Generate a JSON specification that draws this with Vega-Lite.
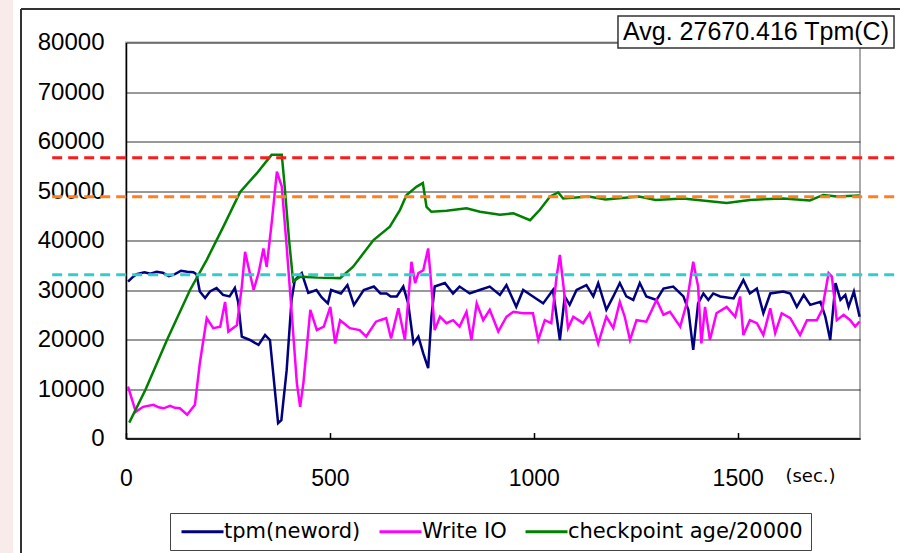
{
 "$schema": "https://vega.github.io/schema/vega-lite/v6.json",
 "width": 734, "height": 396,
 "autosize": {"type": "none"},
 "padding": {"left": 126, "top": 42.5, "right": 40, "bottom": 114.5},
 "background": "#ffffff",
 "config": {"view": {"stroke": "#aaaaaa", "strokeWidth": 2}, "font": "Liberation Sans"},
 "datasets": {
  "tpm": [
   {"t":5,"v":31700},{"t":15,"v":32500},{"t":26,"v":33200},{"t":45,"v":33600},{"t":60,"v":33300},{"t":75,"v":33700},{"t":90,"v":33500},{"t":105,"v":32800},{"t":120,"v":33200},{"t":135,"v":33900},{"t":150,"v":33700},{"t":165,"v":33600},{"t":173,"v":33200},{"t":181,"v":29700},{"t":194,"v":28400},{"t":206,"v":29700},{"t":222,"v":30400},{"t":238,"v":29000},{"t":254,"v":28700},{"t":267,"v":30400},{"t":275,"v":27600},{"t":284,"v":20600},{"t":304,"v":19900},{"t":325,"v":18900},{"t":341,"v":20900},{"t":353,"v":19900},{"t":365,"v":9800},{"t":373,"v":3100},{"t":381,"v":3700},{"t":394,"v":13800},{"t":406,"v":28000},{"t":414,"v":32000},{"t":431,"v":33400},{"t":447,"v":29400},{"t":467,"v":30000},{"t":480,"v":28500},{"t":495,"v":27300},{"t":503,"v":30000},{"t":527,"v":29300},{"t":543,"v":31000},{"t":559,"v":27000},{"t":583,"v":30000},{"t":608,"v":30700},{"t":624,"v":29300},{"t":639,"v":29300},{"t":649,"v":28700},{"t":664,"v":28700},{"t":680,"v":30700},{"t":692,"v":27300},{"t":705,"v":19200},{"t":717,"v":20600},{"t":729,"v":17200},{"t":741,"v":14200},{"t":749,"v":24600},{"t":757,"v":30700},{"t":782,"v":31400},{"t":802,"v":29300},{"t":818,"v":30700},{"t":843,"v":29300},{"t":867,"v":30000},{"t":892,"v":30700},{"t":917,"v":29000},{"t":933,"v":31000},{"t":957,"v":26600},{"t":974,"v":30000},{"t":998,"v":28700},{"t":1023,"v":27300},{"t":1047,"v":30000},{"t":1064,"v":19900},{"t":1076,"v":28700},{"t":1088,"v":27000},{"t":1105,"v":30000},{"t":1129,"v":31000},{"t":1146,"v":28700},{"t":1158,"v":31400},{"t":1178,"v":26000},{"t":1195,"v":28700},{"t":1211,"v":31400},{"t":1227,"v":28700},{"t":1244,"v":28000},{"t":1260,"v":31400},{"t":1276,"v":28700},{"t":1301,"v":28000},{"t":1318,"v":30300},{"t":1342,"v":30700},{"t":1367,"v":28700},{"t":1379,"v":26000},{"t":1391,"v":17900},{"t":1403,"v":27300},{"t":1416,"v":29300},{"t":1428,"v":28000},{"t":1440,"v":29300},{"t":1457,"v":28700},{"t":1490,"v":28300},{"t":1514,"v":32000},{"t":1530,"v":29300},{"t":1547,"v":30300},{"t":1563,"v":25300},{"t":1580,"v":29300},{"t":1612,"v":29700},{"t":1629,"v":29300},{"t":1645,"v":26600},{"t":1662,"v":29000},{"t":1678,"v":27000},{"t":1703,"v":27600},{"t":1715,"v":24600},{"t":1727,"v":19900},{"t":1740,"v":31400},{"t":1752,"v":28000},{"t":1764,"v":29000},{"t":1772,"v":26600},{"t":1785,"v":29700},{"t":1799,"v":24600}
  ],
  "wio": [
   {"t":5,"v":10500},{"t":24,"v":5400},{"t":42,"v":6400},{"t":67,"v":6800},{"t":80,"v":6300},{"t":92,"v":6100},{"t":108,"v":6600},{"t":120,"v":6200},{"t":132,"v":6100},{"t":150,"v":4800},{"t":169,"v":6800},{"t":181,"v":15200},{"t":198,"v":24300},{"t":214,"v":22300},{"t":231,"v":22600},{"t":243,"v":27600},{"t":251,"v":21600},{"t":272,"v":22900},{"t":284,"v":30700},{"t":292,"v":37700},{"t":313,"v":30000},{"t":325,"v":33400},{"t":337,"v":38400},{"t":345,"v":34700},{"t":358,"v":44100},{"t":370,"v":53900},{"t":382,"v":50900},{"t":394,"v":38800},{"t":407,"v":24600},{"t":419,"v":11200},{"t":427,"v":6400},{"t":435,"v":11200},{"t":452,"v":26000},{"t":468,"v":21900},{"t":485,"v":22600},{"t":501,"v":26600},{"t":513,"v":19200},{"t":525,"v":23900},{"t":549,"v":22300},{"t":573,"v":21900},{"t":589,"v":20600},{"t":613,"v":23600},{"t":623,"v":23900},{"t":638,"v":24300},{"t":650,"v":20200},{"t":668,"v":26300},{"t":684,"v":19900},{"t":700,"v":35700},{"t":709,"v":31400},{"t":717,"v":33400},{"t":729,"v":34000},{"t":741,"v":38400},{"t":749,"v":30700},{"t":757,"v":21900},{"t":770,"v":24600},{"t":786,"v":23300},{"t":802,"v":23900},{"t":818,"v":22600},{"t":835,"v":25600},{"t":847,"v":19900},{"t":860,"v":27300},{"t":876,"v":23900},{"t":892,"v":26000},{"t":913,"v":21600},{"t":933,"v":24600},{"t":950,"v":25600},{"t":974,"v":25300},{"t":998,"v":25300},{"t":1011,"v":19900},{"t":1027,"v":23900},{"t":1043,"v":23300},{"t":1056,"v":32700},{"t":1064,"v":37100},{"t":1072,"v":31400},{"t":1084,"v":22300},{"t":1097,"v":24600},{"t":1121,"v":23300},{"t":1137,"v":25300},{"t":1158,"v":19200},{"t":1178,"v":24600},{"t":1195,"v":22300},{"t":1211,"v":27600},{"t":1223,"v":24600},{"t":1236,"v":19900},{"t":1252,"v":23900},{"t":1276,"v":23600},{"t":1301,"v":28000},{"t":1318,"v":25000},{"t":1334,"v":25600},{"t":1359,"v":22600},{"t":1375,"v":27300},{"t":1391,"v":35700},{"t":1403,"v":30700},{"t":1411,"v":19200},{"t":1420,"v":26600},{"t":1432,"v":19900},{"t":1448,"v":25300},{"t":1473,"v":26600},{"t":1494,"v":24600},{"t":1506,"v":28700},{"t":1514,"v":20900},{"t":1530,"v":23900},{"t":1547,"v":23300},{"t":1563,"v":20900},{"t":1580,"v":26300},{"t":1592,"v":21300},{"t":1608,"v":25300},{"t":1629,"v":24300},{"t":1653,"v":20900},{"t":1670,"v":23900},{"t":1694,"v":23900},{"t":1707,"v":26000},{"t":1723,"v":33400},{"t":1731,"v":32700},{"t":1743,"v":23900},{"t":1760,"v":25000},{"t":1776,"v":23900},{"t":1788,"v":22600},{"t":1799,"v":23600}
  ],
  "ckpt": [
   {"t":8,"v":3200},{"t":48,"v":9900},{"t":101,"v":20000},{"t":157,"v":30000},{"t":198,"v":36100},{"t":240,"v":43000},{"t":280,"v":49800},{"t":320,"v":53500},{"t":357,"v":57300},{"t":382,"v":57300},{"t":388,"v":52000},{"t":400,"v":40000},{"t":410,"v":31700},{"t":427,"v":32700},{"t":470,"v":32500},{"t":525,"v":32400},{"t":557,"v":34700},{"t":607,"v":40100},{"t":647,"v":42800},{"t":672,"v":46200},{"t":688,"v":49200},{"t":713,"v":50900},{"t":728,"v":51600},{"t":737,"v":46800},{"t":749,"v":45800},{"t":786,"v":46000},{"t":835,"v":46500},{"t":868,"v":45800},{"t":917,"v":45200},{"t":950,"v":45500},{"t":991,"v":44100},{"t":1015,"v":46200},{"t":1040,"v":48900},{"t":1060,"v":49700},{"t":1072,"v":48500},{"t":1135,"v":48900},{"t":1176,"v":48300},{"t":1258,"v":48900},{"t":1299,"v":48200},{"t":1366,"v":48500},{"t":1473,"v":47600},{"t":1530,"v":48200},{"t":1612,"v":48500},{"t":1677,"v":48100},{"t":1710,"v":49200},{"t":1743,"v":48900},{"t":1799,"v":49100}
  ]
 },
 "layer": [
  {
   "data": {"values": [{"a": -309, "b": -277, "y": -23131, "y2": 88586}]},
   "mark": {"type": "rect", "color": "#f8ebe9", "clip": false},
   "encoding": {
    "x": {"field": "a", "type": "quantitative", "scale": {"domain": [0, 1800]}},
    "x2": {"field": "b"},
    "y": {"field": "y", "type": "quantitative", "scale": {"domain": [0, 80000]}},
    "y2": {"field": "y2"}
   }
  },
  {
   "data": {"values": [{"a": -257.5, "b": -257.5, "y": -23131, "y2": 86768}, {"a": -257.5, "b": 1900, "y": 86768, "y2": 86768}]},
   "mark": {"type": "rule", "color": "#333333", "strokeWidth": 2, "clip": false},
   "encoding": {
    "x": {"field": "a", "type": "quantitative", "scale": {"domain": [0, 1800]}},
    "x2": {"field": "b"},
    "y": {"field": "y", "type": "quantitative", "scale": {"domain": [0, 80000]}},
    "y2": {"field": "y2"}
   }
  },
  {
   "data": {"name": "tpm"},
   "mark": {"type": "line", "strokeWidth": 2.5},
   "encoding": {
    "x": {"field": "t", "type": "quantitative", "scale": {"domain": [0, 1800], "nice": false, "zero": false},
     "axis": {"values": [0, 500, 1000, 1500], "grid": false, "domainColor": "#000000", "domainWidth": 1.5, "tickColor": "#000000", "tickSize": -6, "tickWidth": 1.5,
      "labelFont": "Liberation Sans", "labelFontSize": 23, "labelColor": "#000000", "labelPadding": 35, "labelFlush": false, "format": "d",
      "title": "(sec.)", "titleFont": "DejaVu Sans", "titleFontSize": 18, "titleFontWeight": "normal", "titleColor": "#000000", "titleX": 684, "titleY": 38, "titleAlign": "center", "titleBaseline": "middle", "titleAnchor": null}},
    "y": {"field": "v", "type": "quantitative", "scale": {"domain": [0, 80000], "nice": false},
     "axis": {"values": [0, 10000, 20000, 30000, 40000, 50000, 60000, 70000, 80000], "grid": true, "gridColor": "#333333", "gridWidth": 1, "ticks": false, "domainColor": "#000000", "domainWidth": 1.5,
      "labelFont": "Liberation Sans", "labelFontSize": 24, "labelColor": "#000000", "labelPadding": 22, "format": "d", "title": null}},
    "color": {"datum": "tpm(neword)", "type": "nominal",
     "scale": {"domain": ["tpm(neword)", "Write IO", "checkpoint age/20000"], "range": ["#000080", "#ff00ff", "#008000"]},
     "legend": {"orient": "none", "legendX": 44, "legendY": 470.5, "direction": "horizontal", "title": null, "symbolType": "M-1,0H5", "symbolSize": 196, "symbolStrokeWidth": 3,
      "labelFont": "DejaVu Sans", "labelFontSize": 21, "labelColor": "#000000", "labelOffset": 25, "columnPadding": 12, "padding": 8, "strokeColor": "#444444", "fillColor": "#ffffff", "labelLimit": 400}}
   }
  },
  {
   "data": {"name": "wio"},
   "mark": {"type": "line", "strokeWidth": 2.5},
   "encoding": {
    "x": {"field": "t", "type": "quantitative"},
    "y": {"field": "v", "type": "quantitative"},
    "color": {"datum": "Write IO", "type": "nominal"}
   }
  },
  {
   "data": {"name": "ckpt"},
   "mark": {"type": "line", "strokeWidth": 2.5},
   "encoding": {
    "x": {"field": "t", "type": "quantitative"},
    "y": {"field": "v", "type": "quantitative"},
    "color": {"datum": "checkpoint age/20000", "type": "nominal"}
   }
  },
  {
   "data": {"values": [{"a": -181, "b": 1900, "y": 56700}]},
   "mark": {"type": "rule", "color": "#ff1a1a", "strokeWidth": 3, "strokeDash": [10, 6], "clip": false},
   "encoding": {"x": {"field": "a", "type": "quantitative"}, "x2": {"field": "b"}, "y": {"field": "y", "type": "quantitative"}}
  },
  {
   "data": {"values": [{"a": -181, "b": 1900, "y": 48850}]},
   "mark": {"type": "rule", "color": "#ff7f1e", "strokeWidth": 3, "strokeDash": [10, 6], "clip": false},
   "encoding": {"x": {"field": "a", "type": "quantitative"}, "x2": {"field": "b"}, "y": {"field": "y", "type": "quantitative"}}
  },
  {
   "data": {"values": [{"a": -181, "b": 1900, "y": 33100}]},
   "mark": {"type": "rule", "color": "#33cccc", "strokeWidth": 3, "strokeDash": [10, 6], "clip": false},
   "encoding": {"x": {"field": "a", "type": "quantitative"}, "x2": {"field": "b"}, "y": {"field": "y", "type": "quantitative"}}
  },
  {
   "data": {"values": [{"a": 1206.5, "b": 1883.4, "y": 78889, "y2": 85354}]},
   "mark": {"type": "rect", "fill": "#ffffff", "stroke": "#333333", "strokeWidth": 1.5, "clip": false},
   "encoding": {"x": {"field": "a", "type": "quantitative"}, "x2": {"field": "b"}, "y": {"field": "y", "type": "quantitative"}, "y2": {"field": "y2"}}
  },
  {
   "data": {"values": [{"x": 1545, "y": 82121, "label": "Avg. 27670.416 Tpm(C)"}]},
   "mark": {"type": "text", "font": "Liberation Sans", "fontSize": 25, "color": "#000000", "align": "center", "baseline": "middle", "clip": false},
   "encoding": {"x": {"field": "x", "type": "quantitative"}, "y": {"field": "y", "type": "quantitative"}, "text": {"field": "label"}}
  }
 ]
}
